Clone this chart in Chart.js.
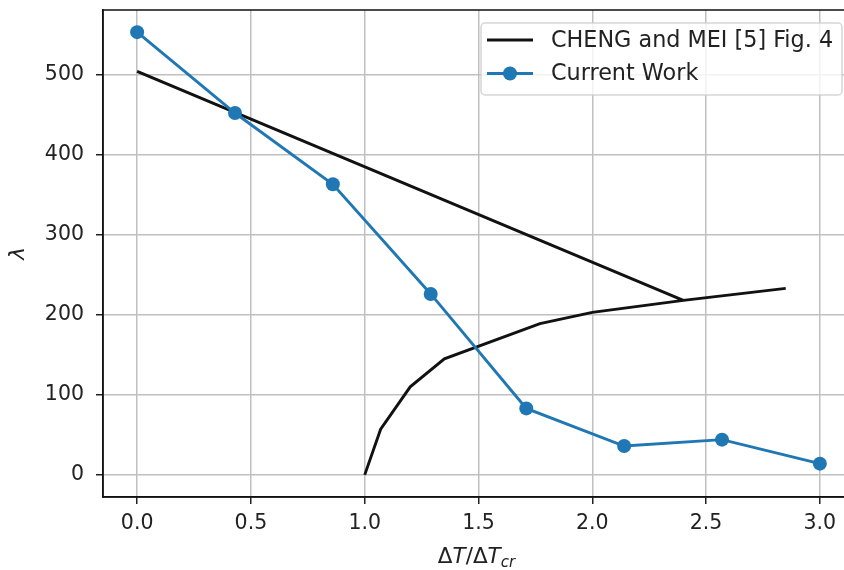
<!DOCTYPE html>
<html>
<head>
<meta charset="utf-8">
<script src="https://cdn.jsdelivr.net/npm/chart.js@4.4.0/dist/chart.umd.min.js"></script>
<style>
    html, body { margin: 0; padding: 0; background: #fff; overflow: hidden; }
    #wrap { width: 861px; height: 570px; }
</style>
</head>
<body>
<div id="wrap"><canvas id="canvas_grafico" width="861" height="570"></canvas></div>
<script>
// CHENG and MEI curve, two pieces
const chengUpperX = [0.0, 2.40];
const chengUpperY = [504, 218];
const chengLowerX = [1.00, 1.07, 1.20, 1.35, 1.77, 2.00, 2.40, 2.85];
const chengLowerY = [0, 57, 110, 145, 189, 203, 218, 233];

// current work
const workX = [0.0, 0.43, 0.86, 1.29, 1.71, 2.14, 2.57, 3.0];
const workY = [553, 452, 363, 226, 83, 36, 44, 14];

const xTicks = [0.0, 0.5, 1.0, 1.5, 2.0, 2.5, 3.0];
const yTicks = [0, 100, 200, 300, 400, 500];

const chengLabel = 'CHENG and MEI [5] Fig. 4';
const workLabel = 'Current Work';

const FONT = 'DejaVu Sans';
const BLUE = '#1f77b4';
const BLACK = '#111111';

function toPoints(xs, ys) {
    return xs.map((x, i) => ({ x: x, y: ys[i] }));
}

// break between the two black pieces
const chengData = toPoints(chengUpperX, chengUpperY)
    .concat([{ x: 2.4, y: null }])
    .concat(toPoints(chengLowerX, chengLowerY));

const framePlugin = {
    id: 'frame',
    afterDatasetsDraw(chart) {
        const a = chart.chartArea;
        const ctx = chart.ctx;
        ctx.save();
        ctx.strokeStyle = BLACK;
        ctx.lineWidth = 1.5;
        ctx.strokeRect(a.left, a.top, a.right - a.left, a.bottom - a.top);
        ctx.restore();
    },
    afterDraw(chart) {
        const a = chart.chartArea;
        const ctx = chart.ctx;
        ctx.save();

        // legend box
        ctx.beginPath();
        ctx.roundRect(481, 23, 361, 72, 4);
        ctx.fillStyle = 'rgba(255,255,255,0.8)';
        ctx.fill();
        ctx.strokeStyle = 'rgba(204,204,204,0.8)';
        ctx.lineWidth = 1.5;
        ctx.stroke();

        ctx.lineWidth = 2.9;
        ctx.strokeStyle = BLACK;
        ctx.beginPath();
        ctx.moveTo(487, 40);
        ctx.lineTo(533, 40);
        ctx.stroke();

        ctx.strokeStyle = BLUE;
        ctx.beginPath();
        ctx.moveTo(487, 73.5);
        ctx.lineTo(533, 73.5);
        ctx.stroke();
        ctx.fillStyle = BLUE;
        ctx.beginPath();
        ctx.arc(510, 73.5, 7, 0, Math.PI * 2);
        ctx.fill();

        ctx.fillStyle = '#222';
        ctx.font = `22.3px '${FONT}'`;
        ctx.textAlign = 'left';
        ctx.textBaseline = 'middle';
        ctx.fillText(chengLabel, 551, 41);
        ctx.fillText(workLabel, 551, 74.5);

        // x axis label: ΔT/ΔT_cr
        const up = `21.5px '${FONT}'`;
        const it = `oblique 21.5px '${FONT}'`;
        const sub = `oblique 15px '${FONT}'`;
        const parts = [
            { t: 'Δ', f: up, dy: 0 },
            { t: 'T', f: it, dy: 0 },
            { t: '/', f: up, dy: 0 },
            { t: 'Δ', f: up, dy: 0 },
            { t: 'T', f: it, dy: 0 },
            { t: 'cr', f: sub, dy: 4 }
        ];
        let total = 0;
        parts.forEach(p => { ctx.font = p.f; p.w = ctx.measureText(p.t).width; total += p.w; });
        let x = (a.left + a.right) / 2 - total / 2 - 2;
        ctx.textBaseline = 'alphabetic';
        parts.forEach(p => {
            ctx.font = p.f;
            ctx.fillText(p.t, x, 562.5 + p.dy);
            x += p.w;
        });

        // y axis label
        ctx.translate(18, (a.top + a.bottom) / 2);
        ctx.rotate(-Math.PI / 2);
        ctx.font = it;
        ctx.textAlign = 'center';
        ctx.textBaseline = 'middle';
        ctx.fillText('λ', 0, 0);
        ctx.restore();
    }
};

const ctx = document.getElementById('canvas_grafico').getContext('2d');
new Chart(ctx, {
    type: 'scatter',
    data: {
        datasets: [
            {
                label: workLabel,
                data: toPoints(workX, workY),
                showLine: true,
                borderColor: BLUE,
                backgroundColor: BLUE,
                borderWidth: 2.9,
                pointRadius: 7,
                pointBorderWidth: 0,
                pointBackgroundColor: BLUE,
                order: 0
            },
            {
                label: chengLabel,
                data: chengData,
                showLine: true,
                spanGaps: false,
                borderColor: BLACK,
                borderWidth: 2.9,
                pointRadius: 0,
                order: 1
            }
        ]
    },
    options: {
        responsive: false,
        animation: false,
        devicePixelRatio: 1,
        layout: { padding: { top: 10, right: 6, left: 0, bottom: 0 } },
        plugins: {
            legend: { display: false },
            tooltip: { enabled: false }
        },
        scales: {
            x: {
                type: 'linear',
                min: -0.15,
                max: 3.15,
                afterBuildTicks: scale => { scale.ticks = xTicks.map(v => ({ value: v })); },
                afterFit: scale => { scale.height = 73; },
                ticks: {
                    callback: v => v.toFixed(1),
                    color: '#222',
                    padding: 7,
                    maxRotation: 0,
                    font: { family: FONT, size: 20.5 }
                },
                grid: {
                    color: '#c0c0c0',
                    lineWidth: 1.5,
                    tickColor: '#222',
                    tickLength: 7,
                    tickWidth: 1.5
                },
                border: { display: true, color: BLACK, width: 1.5 }
            },
            y: {
                type: 'linear',
                min: -27.65,
                max: 580.65,
                afterBuildTicks: scale => { scale.ticks = yTicks.map(v => ({ value: v })); },
                afterFit: scale => {
                    scale.width = 103;
                    scale.paddingTop = 0;
                    scale.paddingBottom = 0;
                },
                ticks: {
                    callback: v => String(v),
                    color: '#222',
                    padding: 12,
                    font: { family: FONT, size: 20.5 }
                },
                grid: {
                    color: '#c0c0c0',
                    lineWidth: 1.5,
                    tickColor: '#222',
                    tickLength: 7,
                    tickWidth: 1.5
                },
                border: { display: true, color: BLACK, width: 1.5 }
            }
        }
    },
    plugins: [framePlugin]
});
</script>
</body>
</html>
